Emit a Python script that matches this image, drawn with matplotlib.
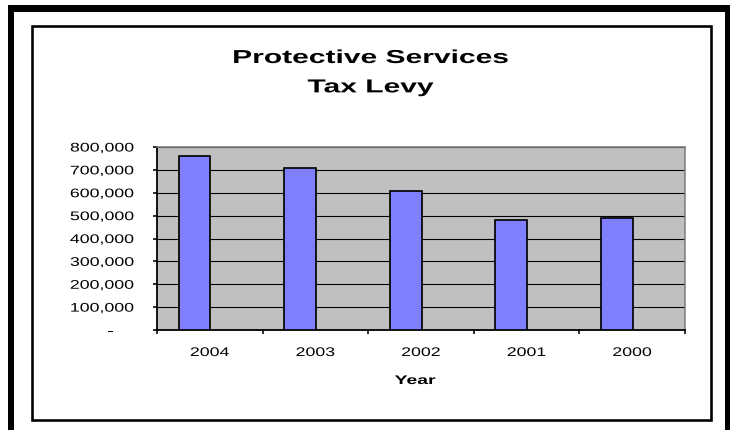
import matplotlib
matplotlib.use('Agg')
import matplotlib.pyplot as plt
from matplotlib.patches import Rectangle
from matplotlib.patheffects import AbstractPathEffect
from matplotlib.transforms import Affine2D
import numpy as np

# ---------------- data ----------------
years = ['2004', '2003', '2002', '2001', '2000']
levy = [761000, 707000, 607000, 481000, 491000]
ytick_values = [0, 100000, 200000, 300000, 400000, 500000, 600000, 700000, 800000]
ytick_labels = ['-      ', '100,000', '200,000', '300,000', '400,000',
                '500,000', '600,000', '700,000', '800,000']
title_text = 'Protective Services\nTax Levy'
xlabel_text = 'Year'

# ---------------- style ----------------
W, H, DPI = 730, 431, 100
PT = 72.0 / DPI          # points per pixel
BAR_COLOR = '#8080FF'
PLOT_BG = '#C0C0C0'
BAR_WIDTH = 0.30
BAR_SHIFT = -0.145       # bars sit left of category centre (empty 2nd series)

plt.rcParams['font.family'] = ['Liberation Sans', 'DejaVu Sans']


class HStretch(AbstractPathEffect):
    """Widen text horizontally (reference text is laid out wide)."""
    def __init__(self, sx, anchor='center'):
        super().__init__()
        self.sx = sx
        self.anchor = anchor

    def draw_path(self, renderer, gc, tpath, affine, rgbFace=None):
        ext = tpath.get_extents(affine)
        if self.anchor == 'right':
            x0 = ext.x1
        elif self.anchor == 'left':
            x0 = ext.x0
        else:
            x0 = 0.5 * (ext.x0 + ext.x1)
        t = affine + Affine2D().translate(-x0, 0).scale(self.sx, 1).translate(x0, 0)
        renderer.draw_path(gc, tpath, t, rgbFace)


fig = plt.figure(figsize=(W / DPI, H / DPI), dpi=DPI)
fig.patch.set_facecolor('white')


def rect_px(x0, y0, x1, y1, **kw):
    """Rectangle given in pixel coords measured from the top-left."""
    r = Rectangle((x0 / W, 1 - y1 / H), (x1 - x0) / W, (y1 - y0) / H,
                  transform=fig.transFigure, **kw)
    fig.add_artist(r)
    return r


# outer thick frame (bottom edge runs off the image)
rect_px(8, 6, 14, 440, facecolor='black', edgecolor='none')
rect_px(8, 6, 731, 13, facecolor='black', edgecolor='none')
rect_px(725, 6, 731, 440, facecolor='black', edgecolor='none')
# inner chart-area frame
rect_px(31.5, 26.5, 711, 421, facecolor='none', edgecolor='black', linewidth=2.6 * PT)

# ---------------- axes ----------------
ax_l, ax_r, ax_t, ax_b = 157, 685, 148, 331
ax = fig.add_axes([ax_l / W, 1 - ax_b / H, (ax_r - ax_l) / W, (ax_b - ax_t) / H])
ax.set_facecolor(PLOT_BG)

x = np.arange(len(years))
ax.bar(x + BAR_SHIFT, levy, width=BAR_WIDTH, color=BAR_COLOR,
       edgecolor='black', linewidth=1.7 * PT, zorder=3)

ax.set_xlim(-0.5, len(years) - 0.5)
ax.set_ylim(ytick_values[0], ytick_values[-1])

ax.set_axisbelow(True)
ax.yaxis.grid(True, color='black', linewidth=1.1 * PT)
ax.xaxis.grid(False)

for side in ('top', 'right'):
    ax.spines[side].set_color('#808080')
    ax.spines[side].set_linewidth(1.6 * PT)
for side in ('left', 'bottom'):
    ax.spines[side].set_color('black')
    ax.spines[side].set_linewidth(1.8 * PT)

# y ticks
ax.set_yticks(ytick_values)
ax.set_yticklabels(ytick_labels)
ax.tick_params(axis='y', direction='out', length=4 * PT, width=1.6 * PT,
               pad=19 * PT, labelsize=9, colors='black')

# x ticks: marks at category boundaries, labels at centres
bounds = np.arange(len(years) + 1) - 0.5
ax.set_xticks(bounds)
ax.set_xticklabels([''] * len(bounds))
ax.set_xticks(x, minor=True)
ax.set_xticklabels(years, minor=True)
ax.tick_params(axis='x', which='major', direction='out', length=4 * PT, width=1.6 * PT)
ax.tick_params(axis='x', which='minor', length=0, pad=17 * PT, labelsize=9, colors='black')

for lab in ax.get_yticklabels():
    lab.set_path_effects([HStretch(1.42, 'right')])
for lab in ax.get_xticklabels(minor=True):
    lab.set_path_effects([HStretch(1.42, 'center')])

# ---------------- texts ----------------
t = fig.text(370.5 / W, 1 - 51 / H, title_text, ha='center', va='top',
             fontsize=13.5, fontweight='bold', linespacing=1.95, color='black')
t.set_path_effects([HStretch(1.6, 'center')])

xl = fig.text(415 / W, 1 - 382 / H, xlabel_text, ha='center', va='center',
              fontsize=9, fontweight='bold', color='black')
xl.set_path_effects([HStretch(1.55, 'center')])

fig.savefig('out.png', dpi=DPI, facecolor='white')
